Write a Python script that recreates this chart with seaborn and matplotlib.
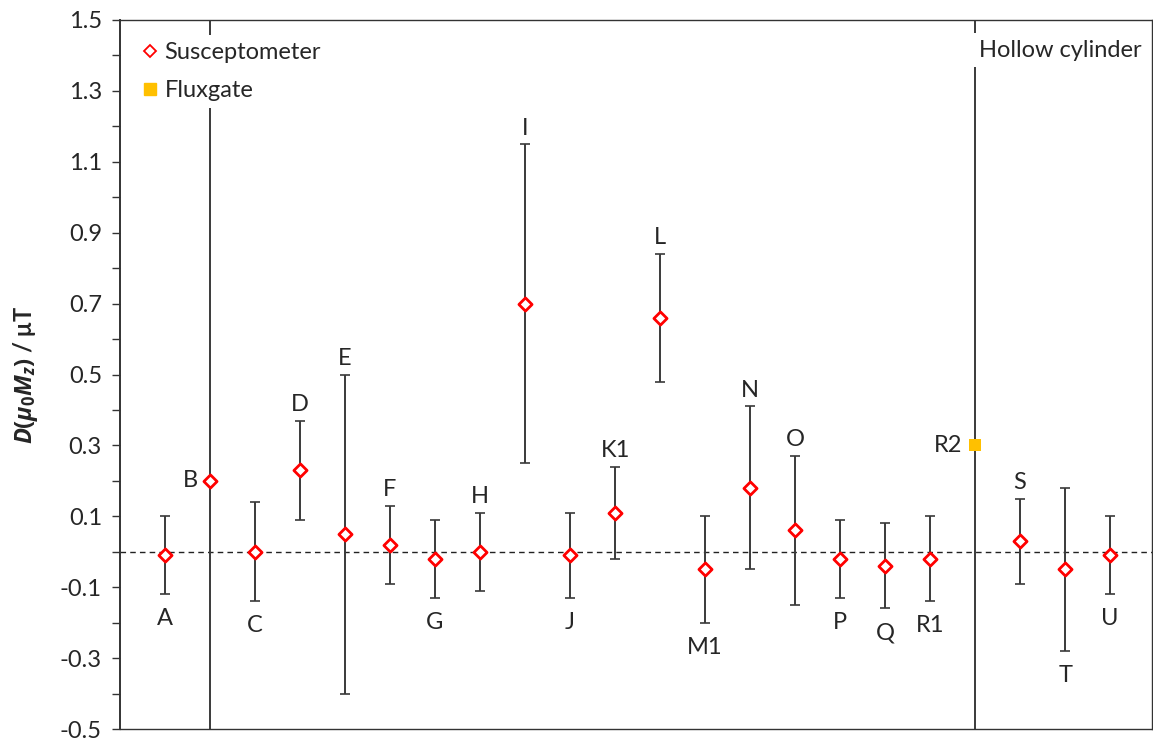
import numpy as np
import pandas as pd
import matplotlib
matplotlib.use("Agg")
import matplotlib.pyplot as plt
from matplotlib.lines import Line2D
import seaborn as sns

# ---- data ----
labels = ["A", "B", "C", "D", "E", "F", "G", "H", "I", "J", "K1", "L", "M1",
          "N", "O", "P", "Q", "R1", "R2", "S", "T", "U"]
values = [-0.01, 0.20, 0.00, 0.23, 0.05, 0.02, -0.02, 0.00, 0.70, -0.01, 0.11, 0.66,
          -0.05, 0.18, 0.06, -0.02, -0.04, -0.02, 0.30, 0.03, -0.05, -0.01]
err_upper = [0.11, 3.0, 0.14, 0.14, 0.45, 0.11, 0.11, 0.11, 0.45, 0.12, 0.13, 0.18,
             0.15, 0.23, 0.21, 0.11, 0.12, 0.12, 3.0, 0.12, 0.23, 0.11]
err_lower = [0.11, 3.0, 0.14, 0.14, 0.45, 0.11, 0.11, 0.11, 0.45, 0.12, 0.13, 0.18,
             0.15, 0.23, 0.21, 0.11, 0.12, 0.12, 3.0, 0.12, 0.23, 0.11]
methods = ["Susceptometer"] * 18 + ["Fluxgate"] + ["Susceptometer"] * 3
label_side = ["below", "left", "below", "above", "above", "above", "below", "above",
              "above", "below", "above", "above", "below", "above", "above", "below",
              "below", "below", "left", "above", "below", "below"]
section_label = "Hollow cylinder"
y_ticks = [-0.5, -0.3, -0.1, 0.1, 0.3, 0.5, 0.7, 0.9, 1.1, 1.3, 1.5]
y_label = r"$D(\mu_0M_z)$ / μT"

df = pd.DataFrame({"pos": np.arange(1, len(labels) + 1), "label": labels,
                   "value": values, "eu": err_upper, "el": err_lower,
                   "method": methods, "side": label_side})

sns.set_theme(style="white")
plt.rcParams["font.family"] = ["Lato", "DejaVu Sans"]
plt.rcParams["mathtext.fontset"] = "custom"
plt.rcParams["mathtext.it"] = "Open Sans:italic:bold"
plt.rcParams["mathtext.rm"] = "Open Sans:bold"

FS = 17
fig = plt.figure(figsize=(11.53, 7.42), dpi=100)
ax = fig.add_axes([120 / 1153, 1 - 729 / 742, 1032 / 1153, 709 / 742])

# error bars
ax.errorbar(df["pos"], df["value"], yerr=[df["el"], df["eu"]], fmt="none",
            ecolor="#3a3a3a", elinewidth=1.4, capsize=3.8, capthick=1.2, zorder=2)

# zero line
ax.axhline(0, color="#222222", lw=1.0, ls=(0, (4, 3)), zorder=1)

# markers
sns.scatterplot(data=df[df["method"] == "Susceptometer"], x="pos", y="value",
                marker="D", s=45, facecolor="white", edgecolor="#FF0000",
                linewidth=2.0, ax=ax, zorder=4, legend=False)
sns.scatterplot(data=df[df["method"] == "Fluxgate"], x="pos", y="value",
                marker="s", s=80, color="#FFC000", edgecolor="#FFC000",
                linewidth=0, ax=ax, zorder=4, legend=False)

# point labels
for _, r in df.iterrows():
    if r["side"] == "above":
        ax.annotate(r["label"], (r["pos"], r["value"] + r["eu"]), xytext=(0, 4),
                    textcoords="offset points", ha="center", va="bottom", fontsize=FS)
    elif r["side"] == "below":
        ax.annotate(r["label"], (r["pos"], r["value"] - r["el"]), xytext=(0, -10),
                    textcoords="offset points", ha="center", va="top", fontsize=FS)
    else:
        ax.annotate(r["label"], (r["pos"], r["value"]), xytext=(-9, 0),
                    textcoords="offset points", ha="right", va="center", fontsize=FS)

ax.set_xlim(0, 22.93)
ax.set_ylim(-0.5, 1.5)
ax.set_yticks(y_ticks)
ax.set_yticklabels([f"{t:.1f}" for t in y_ticks], fontsize=FS)
ax.set_yticks(np.arange(-0.4, 1.5, 0.2), minor=True)
ax.tick_params(axis="y", which="both", direction="out", length=6, width=1,
               color="#333333", left=True, pad=7)
ax.set_xticks([])
ax.set_xlabel("")
ax.set_ylabel(y_label, fontsize=FS, fontweight="bold", labelpad=14)
for s in ax.spines.values():
    s.set_color("#333333")
    s.set_linewidth(1.0)
ax.spines["left"].set_linewidth(1.4)

# section label
ax.text(19.08, 1.415, section_label, ha="left", va="center", fontsize=FS,
        bbox=dict(facecolor="white", edgecolor="none", pad=5), zorder=5)

# legend
handles = [Line2D([], [], marker="D", ls="none", markersize=6.5, markerfacecolor="white",
                  markeredgecolor="#FF0000", markeredgewidth=1.3, label="Susceptometer"),
           Line2D([], [], marker="s", ls="none", markersize=8.5, markerfacecolor="#FFC000",
                  markeredgecolor="#FFC000", label="Fluxgate")]
leg = ax.legend(handles=handles, loc="upper left", bbox_to_anchor=(0.003, 0.995),
                frameon=True, facecolor="white", edgecolor="none", framealpha=1,
                fontsize=FS, handlelength=0.7, handletextpad=0.25, labelspacing=0.7,
                borderpad=0.3)
leg.set_zorder(6)

fig.savefig("out.png", dpi=100)
